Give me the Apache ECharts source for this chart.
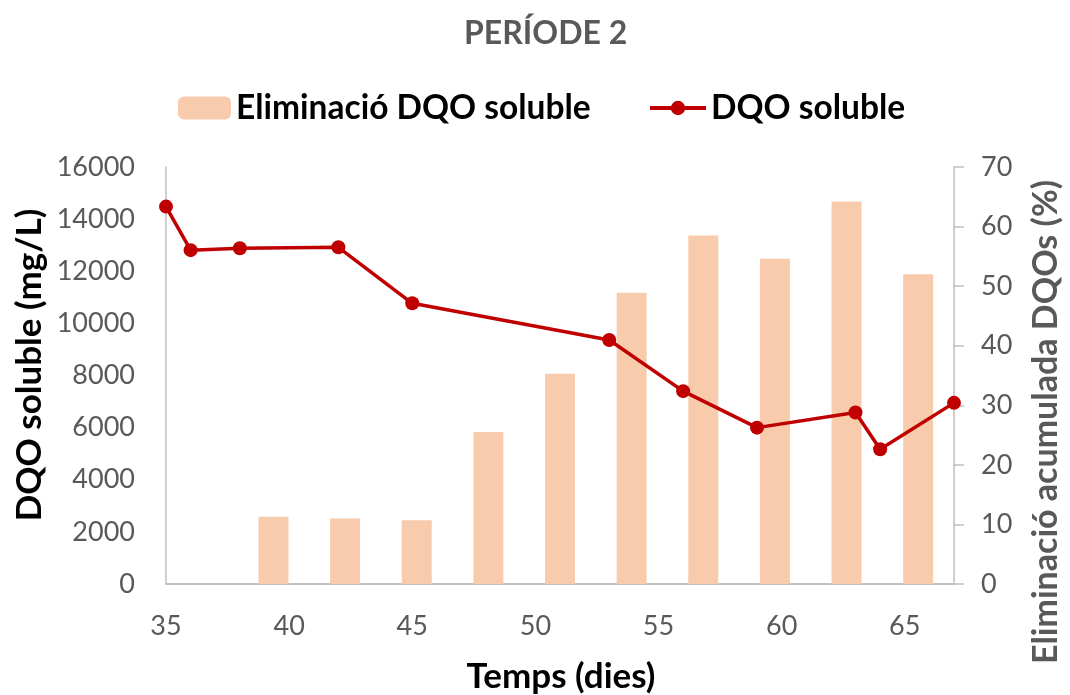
<!DOCTYPE html>
<html>
<head>
<meta charset="utf-8">
<script src="https://cdn.jsdelivr.net/npm/echarts@6/dist/echarts.min.js"></script>
<style>
html,body{margin:0;padding:0;background:#fff;}
#chart{width:1070px;height:695px;}
</style>
</head>
<body>
<div id="chart"></div>
<script>
// Days (time axis)
const days = [35, 36, 38, 42, 45, 53, 56, 59, 63, 64, 67];
// DQO soluble (mg/L)
const codSoluble = [14480, 12810, 12880, 12920, 10770, 9360, 7400, 6000, 6580, 5170, 6950];
// Eliminació acumulada DQO soluble (%)
const codRemoval = [null, 11.3, 11.0, 10.7, 25.5, 35.3, 48.9, 58.5, 54.6, 64.2, 52.0];
const leftTicks = [0, 16000, 2000];
const rightTicks = [0, 70, 10];
const xTicks = [35, 67, 5];

const FONT = 'Lato';
const GREY = '#595959';
const AXIS = '#BFBFBF';

const chart = echarts.init(document.getElementById('chart'));
chart.setOption({
  animation: false,
  backgroundColor: '#ffffff',
  textStyle: { fontFamily: FONT },
  title: {
    text: 'PERÍODE 2',
    left: 459,
    top: 13,
    textStyle: { fontFamily: FONT, fontSize: 32, fontWeight: 'bold', color: GREY }
  },
  legend: [
    {
      data: ['Eliminació DQO soluble'],
      left: 173, top: 86,
      itemWidth: 53, itemHeight: 23,
      selectedMode: false,
      textStyle: { fontFamily: FONT, fontSize: 33.5, fontWeight: 'bold', color: '#000' }
    },
    {
      data: ['DQO soluble'],
      left: 643, top: 86,
      itemWidth: 56, itemHeight: 18,
      selectedMode: false,
      lineStyle: { width: 4, color: '#C00000' },
      textStyle: { fontFamily: FONT, fontSize: 33.5, fontWeight: 'bold', color: '#000' }
    }
  ],
  grid: { left: 166, right: 116, top: 167, bottom: 111, containLabel: false },
  xAxis: [
    {
      type: 'value',
      min: xTicks[0], max: xTicks[1], interval: xTicks[2],
      position: 'bottom',
      axisLine: { show: true, lineStyle: { color: AXIS, width: 1.5 } },
      axisTick: { show: false },
      splitLine: { show: false },
      axisLabel: { color: GREY, fontSize: 27, fontFamily: FONT, margin: 29, showMaxLabel: false }
    },
    {
      type: 'category',
      data: days.map(String),
      position: 'top',
      boundaryGap: true,
      axisLine: { show: true, lineStyle: { color: AXIS, width: 1.5 } },
      axisTick: { show: false },
      axisLabel: { show: false },
      splitLine: { show: false }
    }
  ],
  yAxis: [
    {
      type: 'value',
      min: leftTicks[0], max: leftTicks[1], interval: leftTicks[2],
      position: 'left',
      axisLine: { show: true, lineStyle: { color: AXIS, width: 1.5 } },
      axisTick: { show: false },
      splitLine: { show: false },
      axisLabel: { color: GREY, fontSize: 27, fontFamily: FONT, margin: 31, formatter: v => String(v) }
    },
    {
      type: 'value',
      min: rightTicks[0], max: rightTicks[1], interval: rightTicks[2],
      position: 'right',
      axisLine: { show: true, lineStyle: { color: AXIS, width: 1.5 } },
      axisTick: { show: true, inside: false, length: 10, lineStyle: { color: AXIS, width: 1.5 } },
      splitLine: { show: false },
      axisLabel: { color: GREY, fontSize: 27, fontFamily: FONT, margin: 27 }
    }
  ],
  graphic: [
    {
      type: 'text', x: 30, y: 365, rotation: Math.PI / 2,
      style: { text: 'DQO soluble (mg/L)', fontFamily: FONT, fontSize: 35, fontWeight: 'bold', fill: '#000', align: 'center', verticalAlign: 'middle' }
    },
    {
      type: 'text', x: 1046, y: 422, rotation: Math.PI / 2,
      style: { text: 'Eliminació acumulada DQOs (%)', fontFamily: FONT, fontSize: 34, fontWeight: 'bold', fill: GREY, align: 'center', verticalAlign: 'middle' }
    },
    {
      type: 'text', x: 561, y: 677,
      style: { text: 'Temps (dies)', fontFamily: FONT, fontSize: 35, fontWeight: 'bold', fill: '#000', align: 'center', verticalAlign: 'middle' }
    }
  ],
  series: [
    {
      name: 'Eliminació DQO soluble',
      type: 'bar',
      xAxisIndex: 1,
      yAxisIndex: 1,
      data: codRemoval,
      barWidth: 30,
      itemStyle: { color: '#F8CBAD' },
      z: 1
    },
    {
      name: 'DQO soluble',
      type: 'line',
      xAxisIndex: 0,
      yAxisIndex: 0,
      data: days.map((d, i) => [d, codSoluble[i]]),
      symbol: 'circle',
      symbolSize: 14,
      lineStyle: { color: '#C00000', width: 3.5 },
      itemStyle: { color: '#C00000' },
      z: 3
    }
  ]
});
</script>
</body>
</html>
